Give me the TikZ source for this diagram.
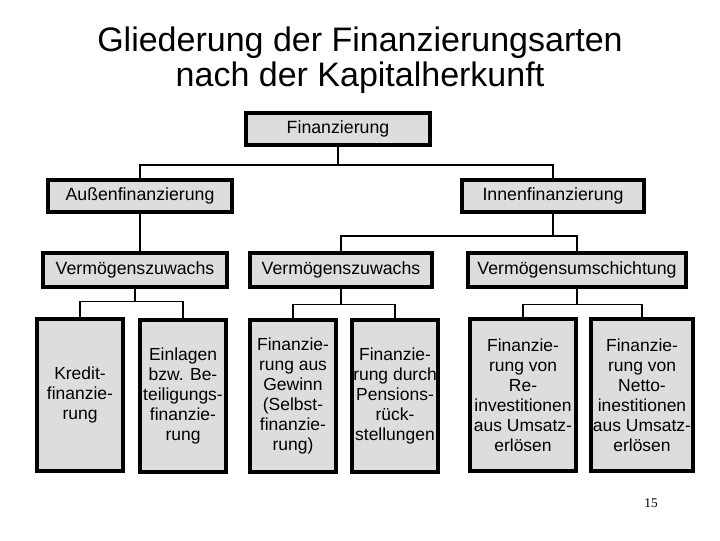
\documentclass[tikz,border=0pt]{standalone}
\usepackage{fontspec}
\setmainfont{Liberation Sans}
\newfontfamily\pagefont{Liberation Serif}
\usepackage{tikz}
\usetikzlibrary{calc,positioning}
\definecolor{boxgray}{HTML}{DDDDDD}
\tikzset{
   finbox/.style={draw=black, line width=3pt, fill=boxgray, inner sep=0pt, align=center,
                  font=\fontsize{13.3}{15}\selectfont},
   leafbox/.style={finbox, minimum width=64pt, minimum height=114pt,
                  font=\fontsize{13.1}{15}\selectfont},
   link/.style={line width=0.9pt}
}
\begin{document}
\begin{tikzpicture}[x=0.75pt,y=-0.75pt]
\useasboundingbox (0,0) rectangle (720,540);

% title
\node (title) at (360,60) [align=center, font=\fontsize{25.5}{26}\selectfont]
   {Gliederung der Finanzierungsarten\\nach der Kapitalherkunft};

% upper levels
\node[finbox, minimum width=138pt, minimum height=24pt] (fin) at (338,129) {Finanzierung};
\node[finbox, minimum width=138pt, minimum height=24pt] (aussen) at (140,196) {Außenfinanzierung};
\node[finbox, minimum width=137pt, minimum height=24pt] (innen) at (553,196) {Innenfinanzierung};

\node[finbox, minimum width=138pt, minimum height=25pt] (zuwL) at (135,270) {Vermögenszuwachs};
\node[finbox, minimum width=137pt, minimum height=25pt] (zuwM) at (341,270) {Vermögenszuwachs};
\node[finbox, minimum width=164pt, minimum height=25pt] (umsch) at (577,270) {Vermögensumschichtung};

% leaves
\node[leafbox] (kredit) at (80,395) {Kredit-\\finanzie-\\rung};
\node[leafbox] (einlagen) at (183,396) {Einlagen\\bzw. Be-\\teiligungs-\\finanzie-\\rung};
\node[leafbox] (gewinn) at (293,396) {Finanzie-\\rung aus\\Gewinn\\(Selbst-\\finanzie-\\rung)};
\node[leafbox] (pension) at (395,396) {Finanzie-\\rung durch\\Pensions-\\rück-\\stellungen};
\node[leafbox, minimum width=80pt] (reinv) at (523,395) {Finanzie-\\rung von\\Re-\\investitionen\\aus Umsatz-\\erlösen};
\node[leafbox, minimum width=77pt] (netto) at (642,395) {Finanzie-\\rung von\\Netto-\\inestitionen\\aus Umsatz-\\erlösen};

\node (page) at (651,503) [font=\pagefont\fontsize{10}{12}\selectfont] {15};

% connectors
\draw[link] (fin.south) -- ++(0,18) -| (aussen.north);
\draw[link] (fin.south) -- ++(0,18) -| (innen.north);
\draw[link] (aussen.south) -- (aussen.south |- zuwL.north);
\draw[link] (innen.south) -- ++(0,22) -| (zuwM.north);
\draw[link] (innen.south) -- ++(0,22) -| (umsch.north);
\draw[link] (zuwL.south) -- ++(0,13) -| (kredit.north);
\draw[link] (zuwL.south) -- ++(0,13) -| (einlagen.north);
\draw[link] (zuwM.south) -- ++(0,16) -| (gewinn.north);
\draw[link] (zuwM.south) -- ++(0,16) -| (pension.north);
\draw[link] (umsch.south) -- ++(0,16) -| (reinv.north);
\draw[link] (umsch.south) -- ++(0,16) -| (netto.north);

\end{tikzpicture}
\end{document}
